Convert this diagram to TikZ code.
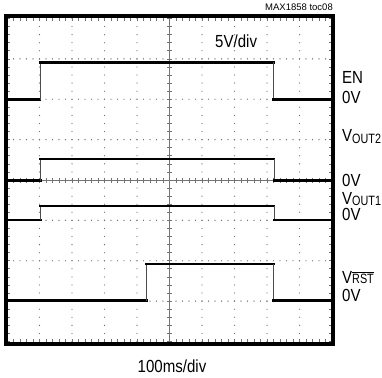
\documentclass[tikz,border=0pt]{standalone}
\usepackage{fontspec}
\setmainfont[FakeStretch=0.86]{Liberation Sans}
\newfontfamily\smallfnt{Liberation Sans}
\newfontfamily\subfnt[FakeStretch=0.8]{Liberation Sans}
\newcommand\subtxt[2][-1.5pt]{\raisebox{#1}{\subfnt\fontsize{13.5}{13.5}\selectfont #2}}
\begin{document}
\begin{tikzpicture}[x=1pt,y=-1pt,
  gridcol/.style={black!55},
  trace/.style={line width=2.6pt,line cap=rect},
  edge/.style={line width=0.9pt,black!70},
  lbl/.style={anchor=base west,inner sep=0pt,font=\fontsize{17.5}{17.5}\selectfont},
  frm/.style={line width=4pt,line join=miter}]
\useasboundingbox (0,0) rectangle (382,377);
\def\xa{7} \def\xb{332} \def\ya{18.5} \def\yb{341.5}
\def\dx{32.5} \def\dy{40.375}
% grid dots
\foreach \j in {1,2,3,5,6,7}{
  \foreach \i in {0,...,50}{
    \fill[gridcol] ({\xa+6.5*\i},{\ya+\dy*\j}) circle (0.65);
  }
}
\foreach \i in {1,2,3,4,6,7,8,9}{
  \foreach \k in {0,...,40}{
    \fill[gridcol] ({\xa+\dx*\i},{\ya+\dy/5*\k}) circle (0.65);
  }
}
% centre lines with ticks
\draw[gridcol,line width=0.6pt] ({\xa+5*\dx},\ya) -- ({\xa+5*\dx},\yb);
\draw[gridcol,line width=0.6pt] (\xa,{\ya+4*\dy}) -- (\xb,{\ya+4*\dy});
\foreach \k in {0,...,40}{
  \draw[gridcol,line width=0.7pt] ({\xa+5*\dx-2.5},{\ya+\dy/5*\k}) -- ({\xa+5*\dx+2.5},{\ya+\dy/5*\k});
  \draw[gridcol,line width=0.7pt] (\xa,{\ya+\dy/5*\k}) -- ({\xa+3},{\ya+\dy/5*\k});
  \draw[gridcol,line width=0.7pt] (\xb,{\ya+\dy/5*\k}) -- ({\xb-3},{\ya+\dy/5*\k});
}
\foreach \i in {0,...,50}{
  \draw[gridcol,line width=0.7pt] ({\xa+6.5*\i},{\ya+4*\dy-2.5}) -- ({\xa+6.5*\i},{\ya+4*\dy+2.5});
  \draw[gridcol,line width=0.7pt] ({\xa+6.5*\i},\ya) -- ({\xa+6.5*\i},{\ya+3});
  \draw[gridcol,line width=0.7pt] ({\xa+6.5*\i},\yb) -- ({\xa+6.5*\i},{\yb-3});
}
% frame
\draw[frm] (5.5,16.5) rectangle (333,343.5);
% EN trace
\draw[trace] (\xa,99.5) -- (40,99.5);
\draw[edge] (40,99.5) -- (40,62.5);
\draw[trace] (40,62.5) -- (273.5,62.5);
\draw[edge] (273.5,62.5) -- (273.5,99.5);
\draw[trace] (273.5,99.5) -- (\xb,99.5);
% VOUT2 trace
\draw[trace] (\xa,180.5) -- (40.5,180.5);
\draw[edge] (40.5,180.5) -- (40.5,159);
\draw[trace] (40.5,159) -- (274,159);
\draw[edge] (274,159) -- (274,180.5);
\draw[trace] (274,180.5) -- (\xb,180.5);
% VOUT1 trace
\draw[trace] (\xa,220) -- (40.5,220);
\draw[edge] (40.5,220) -- (40.5,206);
\draw[trace] (40.5,206) -- (274,206);
\draw[edge] (274,206) -- (274,220);
\draw[trace] (274,220) -- (\xb,220);
% VRST trace
\draw[trace] (\xa,300.5) -- (146.7,300.5);
\draw[edge] (146.7,300.5) -- (146.7,264);
\draw[trace] (146.7,264) -- (273.5,264);
\draw[edge] (273.5,264) -- (273.5,300.5);
\draw[trace] (273.5,300.5) -- (\xb,300.5);
% labels
\node[anchor=base east,inner sep=0pt,font=\smallfnt\fontsize{9.5}{9.5}\selectfont] (toc) at (333,10.5) {MAX1858 toc08};
\node[lbl] (vdiv) at (215,48) {5V/div};
\node[lbl,anchor=base] (tdiv) at (172,372) {100ms/div};
\node[lbl] (en) at (342,84) {EN};
\node[lbl] (en0) at (342,103) {0V};
\node[lbl] (v2) at (342,141.5) {V\subtxt{OUT2}};
\node[lbl] (v20) at (342,186) {0V};
\node[lbl] (v1) at (342,204.5) {V\subtxt[-1pt]{OUT1}};
\node[lbl] (v10) at (342,220.5) {0V};
\node[lbl] (vr) at (342,283) {V\subtxt[0pt]{$\overline{\mbox{RST}}$}};
\node[lbl] (vr0) at (342,301) {0V};
\end{tikzpicture}
\end{document}
